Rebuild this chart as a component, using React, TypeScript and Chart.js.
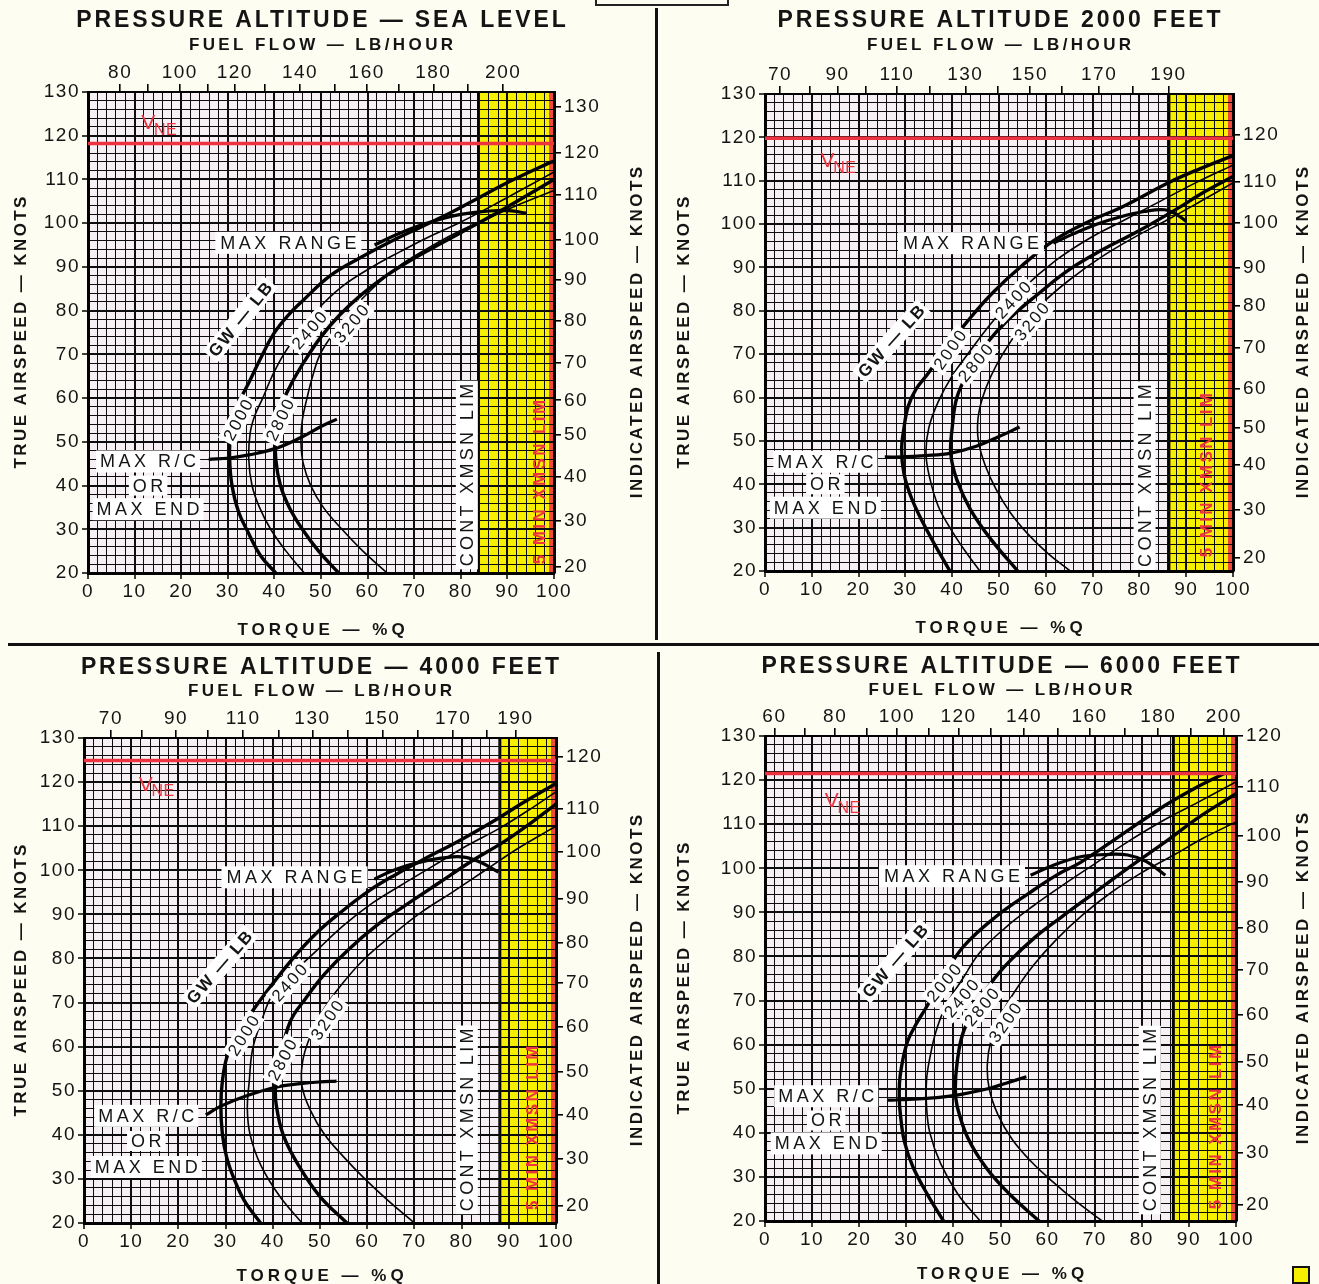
import React, { useEffect, useRef } from 'react';
import { Chart, registerables } from 'chart.js';

Chart.register(...registerables);

const FONT = "'Liberation Sans', Arial, Helvetica, sans-serif";

// ======================= DATA =======================
const titleSL = 'PRESSURE ALTITUDE — SEA LEVEL';
const title2000 = 'PRESSURE ALTITUDE 2000 FEET';
const title4000 = 'PRESSURE ALTITUDE — 4000 FEET';
const title6000 = 'PRESSURE ALTITUDE — 6000 FEET';
const gwWeights = ['2000', '2400', '2800', '3200'];

// Fuel flow (top axis) tick values and the torque (%Q) they sit at
const slFuelFlow = [80, 90, 100, 110, 120, 130, 140, 150, 160, 170, 180, 190, 200];
const slFuelFlowAtTorque = [6.9, 12.9, 19.7, 25.8, 31.5, 38.0, 45.5, 53.0, 59.8, 66.6, 74.1, 81.6, 89.1];
const ft2FuelFlow = [70, 80, 90, 100, 110, 120, 130, 140, 150, 160, 170, 180, 190];
const ft2FuelFlowAtTorque = [3.2, 9.6, 15.5, 21.6, 28.2, 35.3, 42.8, 49.7, 56.6, 63.5, 71.4, 78.5, 86.2];
const ft4FuelFlow = [70, 80, 90, 100, 110, 120, 130, 140, 150, 160, 170, 180, 190];
const ft4FuelFlowAtTorque = [5.7, 12.2, 19.5, 26.3, 33.7, 41.2, 48.4, 55.9, 63.2, 70.7, 78.2, 85.3, 91.4];
const ft6FuelFlow = [60, 70, 80, 90, 100, 110, 120, 130, 140, 150, 160, 170, 180, 190, 200];
const ft6FuelFlowAtTorque = [2.0, 8.5, 14.9, 21.6, 28.0, 34.8, 41.1, 48.0, 55.0, 62.2, 68.9, 76.4, 83.5, 90.3, 97.4];

// Indicated airspeed (right axis) tick values and the true airspeed they sit at
const slIAS = [130, 120, 110, 100, 90, 80, 70, 60, 50, 40, 30, 20];
const slIASAtTAS = [126.6, 116.0, 106.5, 96.3, 87.0, 77.6, 68.1, 59.5, 51.6, 42.0, 31.9, 21.5];
const ft2IAS = [120, 110, 100, 90, 80, 70, 60, 50, 40, 30, 20];
const ft2IASAtTAS = [120.6, 109.8, 100.4, 89.9, 81.2, 71.5, 62.0, 53.0, 44.4, 34.2, 23.0];
const ft4IAS = [120, 110, 100, 90, 80, 70, 60, 50, 40, 30, 20];
const ft4IASAtTAS = [125.7, 114.0, 104.1, 93.6, 83.6, 74.4, 64.5, 54.4, 44.6, 34.6, 23.9];
const ft6IAS = [120, 110, 100, 90, 80, 70, 60, 50, 40, 30, 20];
const ft6IASAtTAS = [130.0, 118.4, 107.3, 96.9, 86.5, 76.9, 66.7, 56.1, 46.3, 35.4, 23.6];

// VNE (true airspeed) and continuous transmission limit (torque)
const slVNE = 118.2, ft2VNE = 119.8, ft4VNE = 124.9, ft6VNE = 121.5;
const slXmsn = 83.8, ft2Xmsn = 86.3, ft4Xmsn = 88.1, ft6Xmsn = 86.7;

// Gross-weight curves: [torque %Q, true airspeed kt]
const slGW2000 = [[40.3, 20], [37, 24], [34.5, 29], [32.3, 34], [30.9, 40], [30.4, 46], [30.6, 52], [32, 58], [34.5, 63.5], [37, 69], [39.9, 74.8], [43, 79], [46.2, 82.4], [52, 88], [58.8, 92.3], [65, 95.8], [71.4, 99.1], [78, 102.5], [84, 105.9], [91, 109.8], [98.4, 113.5], [100, 114.2]];
const slGW2400 = [[46.4, 20], [42.5, 25], [39.2, 30], [36.8, 35], [35.2, 40], [34.5, 46], [34.8, 52], [35.8, 56], [37.5, 60], [39.5, 65], [42, 70], [45.3, 75], [49, 80], [54.5, 85.5], [61, 90], [67, 93.5], [73, 96.8], [79.5, 100], [88.5, 105], [95, 108.8], [100, 111.7]];
const slGW2800 = [[53.8, 20], [49.5, 25], [46, 30], [43.2, 35], [41.3, 40], [40.3, 46], [40.3, 52], [41, 57], [43.5, 63], [46.5, 68.5], [50, 74], [54, 79], [58.5, 83.5], [64, 88], [70, 92], [76, 95.5], [82, 99], [88, 102.5], [94, 106.2], [100, 110]];
const slGW3200 = [[64.2, 20], [59, 25], [54.5, 30], [50.5, 35], [47.8, 40], [46.2, 45], [45.7, 50], [46, 55], [47, 60], [48.2, 65], [49.8, 70], [52.8, 75], [56.5, 80], [61, 85], [66.5, 90], [72.5, 94], [79, 97.8], [86, 101.2], [93, 104.5], [100, 107.5]];
const slMaxRC = [[25.9, 46], [30.4, 46.3], [34.5, 47], [40.3, 48.5], [45.7, 51], [50, 53.5], [53.4, 55.2]];
const slMaxRange = [[61.5, 95], [66, 97.3], [71, 99.4], [76, 101], [80, 102], [84, 102.6], [88, 102.9], [91, 102.8], [94, 102.3]];

const ft2GW2000 = [[39.5, 20], [35, 28.6], [31.5, 36.3], [29.7, 42.4], [29.2, 48], [29.7, 53], [30.6, 58], [32.3, 62], [34.6, 65.2], [38.5, 71], [43.2, 77.5], [48.5, 84], [55, 90.5], [62, 96.4], [69, 100.5], [76.4, 104], [86.3, 109.6], [93, 112.8], [100, 115.8]];
const ft2GW2400 = [[45.9, 20], [42.5, 25], [39.5, 30], [37, 35], [35.3, 41], [34.4, 47], [35, 53], [37, 59], [40, 65], [44, 71], [49, 78], [55, 85], [62, 91.5], [69, 96.5], [76, 100.5], [84, 105], [92, 109.5], [100, 113.6]];
const ft2GW2800 = [[54, 20], [48.5, 27], [44, 34], [41, 41], [39.7, 47], [40, 53], [41, 60], [43.5, 66], [47, 72], [52, 78], [58.5, 84], [65, 89.5], [72, 94], [80, 98.5], [88, 103.5], [94, 107.5], [100, 111]];
const ft2GW3200 = [[65.2, 20], [60.5, 24], [56.2, 28.5], [52.4, 33.5], [49.3, 39], [47, 44.5], [45.6, 50], [45.5, 55], [46.5, 60], [48.3, 65], [50.8, 70], [54.5, 76], [59.5, 82], [65.5, 87.5], [72, 92.5], [79, 97], [86, 101], [93, 105.2], [100, 109.5]];
const ft2MaxRC = [[25.6, 46.3], [29.2, 46.3], [34.2, 46.6], [39.7, 47.2], [45, 48.7], [50, 51], [54.4, 53.2]];
const ft2MaxRange = [[61.6, 95.6], [66, 97.8], [71, 100], [76, 101.7], [81, 102.9], [85.4, 103.3], [88, 102.2], [90, 100.6]];

const ft4GW2000 = [[37.4, 20], [34, 25], [31.8, 30], [30.2, 35], [29.3, 40.4], [29, 46.4], [29.3, 52], [30.3, 57.7], [32.5, 63], [35, 67], [38, 71.5], [43.7, 79.3], [49, 85.5], [55, 91], [60.6, 95.5], [66, 99], [72, 102.5], [80, 107], [87, 111.3], [93, 115.3], [100, 119.7]];
const ft4GW2400 = [[46.2, 20], [41.5, 26], [37.5, 33], [35.2, 40], [34.6, 46], [35, 52], [35.7, 59.3], [37.5, 65.5], [40.1, 72.1], [44.5, 77], [49, 81.5], [55, 87.5], [61, 92.5], [67, 96.5], [74, 101], [81, 105.5], [88, 109.5], [94, 113.5], [100, 117.8]];
const ft4GW2800 = [[55.7, 20], [50, 26], [45.5, 33], [42.2, 40], [40.7, 47], [40.6, 51], [41.5, 57], [43.7, 65.7], [47, 71], [51, 76.5], [56, 82], [62, 87.5], [68, 92], [75, 97], [82, 102], [89, 106.5], [95, 111], [100, 115]];
const ft4GW3200 = [[70, 20], [64.5, 25], [59.5, 30], [55, 35], [51, 40], [48, 45.5], [46.2, 51], [46.3, 56.5], [47.8, 62], [50.5, 68], [54.5, 74], [59.5, 80], [65.5, 85.5], [71.5, 90.5], [78, 95], [85, 100], [92, 105], [100, 110]];
const ft4MaxRC = [[25.8, 44.5], [29, 46.5], [34.6, 48.9], [40.6, 50.8], [45.9, 51.6], [50, 52], [53.5, 52.2]];
const ft4MaxRange = [[61.5, 98], [66, 100.2], [71, 101.8], [76, 102.8], [80.5, 103], [84, 101.8], [87.8, 99.6]];

const ft6GW2000 = [[37.9, 20], [34.5, 26], [31.4, 32.3], [29.6, 38], [28.8, 43.6], [28.5, 48], [28.7, 53], [30.1, 60.2], [32, 64.5], [34.1, 68.2], [38, 75.5], [42.1, 82.2], [49, 89], [56.4, 94.6], [62, 98.5], [67.1, 101.4], [76, 107.8], [85, 114.3], [91, 118], [97.5, 121.5]];
const ft6GW2400 = [[45.7, 20], [41, 26], [37.3, 33], [35, 40], [34.3, 46], [34.3, 52], [35, 57], [36.3, 63], [38.5, 69], [42, 75], [45.7, 81], [51, 86.5], [57, 91.5], [63, 96], [70, 101], [77, 106], [84, 110.5], [92, 115], [100, 119.6]];
const ft6GW2800 = [[58.2, 20], [52, 26], [47, 32], [43, 39], [40.8, 46], [40.4, 50], [40.8, 56], [42, 62.5], [44.5, 68], [48, 74], [52, 79], [57.5, 84.5], [63, 89], [70, 94.5], [77, 100], [85, 106], [92, 111.5], [100, 116.9]];
const ft6GW3200 = [[71.6, 20], [66, 24.5], [61, 29], [56.5, 33.5], [52.5, 38.5], [49.5, 44], [47.6, 50], [47.2, 55.5], [48, 61], [50, 66.5], [53, 72], [57, 78], [62, 84], [67.5, 89.5], [73.5, 94.5], [80, 99], [86.8, 103], [93, 106.8], [100, 110.5]];
const ft6MaxRC = [[26.1, 47.4], [28.6, 47.5], [34.3, 47.8], [40.4, 48.5], [47.3, 50], [51, 51.2], [55.5, 52.7]];
const ft6MaxRange = [[56.4, 98.4], [61, 100.6], [67, 102.6], [72, 103.1], [77, 103], [81, 101.5], [85, 98.4]];

// ======================= PANEL TABLE =======================
const panels = [
  { title: titleSL, fuel: slFuelFlow, fuelAt: slFuelFlowAtTorque, ias: slIAS, iasAt: slIASAtTAS, vne: slVNE, xmsn: slXmsn,
    curves: [slGW2000, slGW2400, slGW2800, slGW3200], maxRC: slMaxRC, maxRange: slMaxRange },
  { title: title2000, fuel: ft2FuelFlow, fuelAt: ft2FuelFlowAtTorque, ias: ft2IAS, iasAt: ft2IASAtTAS, vne: ft2VNE, xmsn: ft2Xmsn,
    curves: [ft2GW2000, ft2GW2400, ft2GW2800, ft2GW3200], maxRC: ft2MaxRC, maxRange: ft2MaxRange },
  { title: title4000, fuel: ft4FuelFlow, fuelAt: ft4FuelFlowAtTorque, ias: ft4IAS, iasAt: ft4IASAtTAS, vne: ft4VNE, xmsn: ft4Xmsn,
    curves: [ft4GW2000, ft4GW2400, ft4GW2800, ft4GW3200], maxRC: ft4MaxRC, maxRange: ft4MaxRange },
  { title: title6000, fuel: ft6FuelFlow, fuelAt: ft6FuelFlowAtTorque, ias: ft6IAS, iasAt: ft6IASAtTAS, vne: ft6VNE, xmsn: ft6Xmsn,
    curves: [ft6GW2000, ft6GW2400, ft6GW2800, ft6GW3200], maxRC: ft6MaxRC, maxRange: ft6MaxRange },
];

// ======================= LAYOUT (positions / styles) =======================
const boxes = [
  { left: 0, top: 0, w: 655, h: 642, l: 88, r: 554, t: 92, b: 573, titleY: 20, ffY: 44, botY: 629, leftX: 20, rightX: 636 },
  { left: 660, top: 0, w: 659, h: 642, l: 105, r: 573, t: 94, b: 571, titleY: 20, ffY: 44, botY: 627, leftX: 23, rightX: 642 },
  { left: 0, top: 648, w: 655, h: 636, l: 84, r: 556, t: 90, b: 575, titleY: 19, ffY: 42, botY: 627, leftX: 20, rightX: 636 },
  { left: 660, top: 648, w: 659, h: 636, l: 105, r: 576, t: 88, b: 573, titleY: 18, ffY: 41, botY: 625, leftX: 23, rightX: 642 },
];

// label anchors in data units [torque, tas, angle]
const annotations = [
  { gwLb: [32.7, 78, -51], gw: [[32.2, 55, -62], [47.5, 75.5, -49], [41.2, 55, -64], [56.5, 77, -50]], range: [43, 95.5],
    rc: [12.9, 45.5, 40, 34.6], cont: [81.3, 42.4], five: [96.9, 40.8], vneAt: [15.1, 122.4] },
  { gwLb: [27, 73, -48], gw: [[39.5, 71, -55], [53, 82.5, -47], [45, 68, -50], [57, 77.5, -50]], range: [44, 95.6],
    rc: [12.9, 45.2, 40, 34.6], cont: [81.1, 42], five: [94.4, 42.1], vneAt: [15.5, 114] },
  { gwLb: [28.7, 78, -49], gw: [[33.8, 62.5, -58], [43.5, 74.5, -48], [42, 57, -62], [51.5, 66, -55]], range: [44.6, 98.4],
    rc: [13.2, 44.3, 38.6, 32.7], cont: [81.1, 43.4], five: [94.9, 41.6], vneAt: [15.2, 118.9] },
  { gwLb: [27.6, 79, -49], gw: [[38, 74, -50], [41.7, 70.5, -50], [46, 68.5, -50], [51, 65, -55]], range: [39.7, 98.2],
    rc: [13, 48.3, 42.8, 37.6], cont: [81.7, 42.9], five: [95.7, 41.3], vneAt: [16.3, 114.7] },
];

const INK = '#141414';
const RED = '#ee3340';

type TextOpts = { size: number; bold?: boolean; spacing?: number; angle?: number; color?: string; bg?: string; padX?: number; padY?: number };

function drawText(ctx: CanvasRenderingContext2D, text: string, x: number, y: number, o: TextOpts) {
  ctx.save();
  ctx.translate(x, y);
  if (o.angle) ctx.rotate((o.angle * Math.PI) / 180);
  ctx.font = `${o.bold ? 'bold ' : ''}${o.size}px ${FONT}`;
  (ctx as any).letterSpacing = '0px';
  const sp = o.spacing || 0;
  const w = ctx.measureText(text).width + sp * (text.length - 1);
  if (o.bg) {
    const px = o.padX ?? 4;
    const py = o.padY ?? 2;
    ctx.fillStyle = o.bg;
    ctx.fillRect(-w / 2 - px, -o.size / 2 - py, w + 2 * px, o.size + 2 * py);
  }
  (ctx as any).letterSpacing = sp + 'px';
  ctx.fillStyle = o.color || INK;
  ctx.textBaseline = 'middle';
  ctx.textAlign = 'left';
  ctx.fillText(text, -w / 2, 1);
  ctx.restore();
}

function makeOverlay(p: any, ann: any, box: any) {
  return {
    id: 'chartOverlay',
    beforeDraw(chart: any) {
      const { ctx, chartArea: a } = chart;
      const xs = chart.scales.x;
      ctx.save();
      ctx.fillStyle = '#f6eff3';
      ctx.fillRect(a.left, a.top, a.right - a.left, a.bottom - a.top);
      const bx = xs.getPixelForValue(p.xmsn);
      ctx.fillStyle = '#f6ef00';
      ctx.fillRect(bx, a.top, a.right - bx, a.bottom - a.top);
      ctx.fillStyle = '#f0483c';
      ctx.fillRect(a.right - 5, a.top, 5, a.bottom - a.top);
      ctx.strokeStyle = '#000';
      ctx.lineWidth = 3;
      ctx.beginPath();
      ctx.moveTo(bx, a.top);
      ctx.lineTo(bx, a.bottom);
      ctx.stroke();
      ctx.restore();
      (ctx as any).letterSpacing = '1.5px';
    },
    afterDatasetsDraw(chart: any) {
      const { ctx, chartArea: a } = chart;
      (ctx as any).letterSpacing = '0px';
      const X = (v: number) => chart.scales.x.getPixelForValue(v);
      const Y = (v: number) => chart.scales.y.getPixelForValue(v);
      // gross weight labels
      drawText(ctx, 'GW — LB', X(ann.gwLb[0]), Y(ann.gwLb[1]), { size: 17, bold: true, spacing: 2, angle: ann.gwLb[2], bg: '#ffffff', padX: 3, padY: 1 });
      ann.gw.forEach((g: number[], i: number) => {
        drawText(ctx, gwWeights[i], X(g[0]), Y(g[1]), { size: 17, spacing: 2, angle: g[2], bg: '#ffffff', padX: 3, padY: 1 });
      });
      drawText(ctx, 'MAX RANGE', X(ann.range[0]), Y(ann.range[1]), { size: 18, spacing: 3.5, bg: '#ffffff', padX: 5, padY: 2 });
      drawText(ctx, 'MAX R/C', X(ann.rc[0]), Y(ann.rc[1]), { size: 18, spacing: 3.5, bg: '#ffffff', padX: 4, padY: 2 });
      drawText(ctx, 'OR', X(ann.rc[0]), Y(ann.rc[2]), { size: 18, spacing: 3.5, bg: '#ffffff', padX: 4, padY: 1 });
      drawText(ctx, 'MAX END', X(ann.rc[0]), Y(ann.rc[3]), { size: 18, spacing: 3.5, bg: '#ffffff', padX: 4, padY: 2 });
      drawText(ctx, 'CONT XMSN LIM', X(ann.cont[0]), Y(ann.cont[1]), { size: 18, spacing: 3.3, angle: -90, bg: '#ffffff', padX: 3, padY: 2 });
      drawText(ctx, '5 MIN XMSN LIM', X(ann.five[0]), Y(ann.five[1]), { size: 17, bold: true, spacing: 2.4, angle: -90, color: RED });
      // VNE label
      const vx = X(ann.vneAt[0]);
      const vy = Y(ann.vneAt[1]);
      drawText(ctx, 'V', vx - 10, vy - 3, { size: 21, color: RED });
      drawText(ctx, 'NE', vx + 7, vy + 4, { size: 16, spacing: 0.5, color: RED });
      // titles
      const cx = (a.left + a.right) / 2;
      const cy = (a.top + a.bottom) / 2;
      drawText(ctx, p.title, cx, box.titleY, { size: 23, bold: true, spacing: 2.9 });
      drawText(ctx, 'FUEL FLOW — LB/HOUR', cx, box.ffY, { size: 17, bold: true, spacing: 3.4 });
      drawText(ctx, 'TORQUE — %Q', cx, box.botY, { size: 17, bold: true, spacing: 4 });
      drawText(ctx, 'TRUE AIRSPEED — KNOTS', box.leftX, cy, { size: 17, bold: true, spacing: 2.4, angle: -90 });
      drawText(ctx, 'INDICATED AIRSPEED — KNOTS', box.rightX, cy, { size: 17, bold: true, spacing: 2.5, angle: -90 });
      (ctx as any).letterSpacing = '0px';
    },
  };
}

function buildConfig(idx: number): any {
  const p = panels[idx];
  const box = boxes[idx];
  const ann = annotations[idx];
  const toXY = (arr: number[][]) => arr.map(([x, y]) => ({ x, y }));
  const datasets: any[] = [];
  datasets.push({ label: 'VNE', data: [{ x: 0, y: p.vne }, { x: 100, y: p.vne }], borderColor: RED, borderWidth: 3.5, showLine: true, pointRadius: 0, tension: 0 });
  p.curves.forEach((c: number[][], i: number) => {
    datasets.push({ label: 'GW ' + gwWeights[i], data: toXY(c), borderColor: '#000', borderWidth: i % 2 === 0 ? 3.4 : 1.6, showLine: true, pointRadius: 0, tension: 0.4 });
  });
  datasets.push({ label: 'MAX R/C', data: toXY(p.maxRC), borderColor: '#000', borderWidth: 3.2, showLine: true, pointRadius: 0, tension: 0.4 });
  datasets.push({ label: 'MAX RANGE', data: toXY(p.maxRange), borderColor: '#000', borderWidth: 3.2, showLine: true, pointRadius: 0, tension: 0.4 });

  const tickFont = { family: FONT, size: 19, lineHeight: 1 };
  const major = (c: any) => c.tick && Math.round(c.tick.value) % 10 === 0;

  return {
    type: 'scatter',
    data: { datasets },
    options: {
      responsive: false,
      animation: false,
      events: [],
      layout: { padding: 0 },
      plugins: { legend: { display: false }, tooltip: { enabled: false }, title: { display: false } },
      scales: {
        x: {
          type: 'linear', position: 'bottom', min: 0, max: 100,
          afterFit: (s: any) => { s.height = box.h - box.b; },
          ticks: { stepSize: 2, autoSkip: false, maxRotation: 0, color: INK, font: tickFont, padding: 3.5,
            callback: (v: any) => (Math.round(v) % 10 === 0 ? String(v) : '') },
          grid: { color: '#0d0d0d', lineWidth: (c: any) => (major(c) ? 2 : 1), tickLength: 6,
            tickColor: (c: any) => (major(c) ? '#000' : 'rgba(0,0,0,0)'), tickWidth: 1.5 },
          border: { display: true, color: '#000', width: 3 },
        },
        x2: {
          type: 'linear', position: 'top', min: 0, max: 100,
          afterFit: (s: any) => { s.height = box.t; },
          afterBuildTicks: (s: any) => { s.ticks = p.fuelAt.map((v: number) => ({ value: v })); },
          ticks: { autoSkip: false, maxRotation: 0, color: INK, font: tickFont, padding: 1.5,
            callback: (_v: any, i: number) => (i % 2 === 0 ? String(p.fuel[i]) : '') },
          grid: { drawOnChartArea: false, drawTicks: true, tickLength: 8, color: '#000', tickColor: '#000', tickWidth: 1.6, lineWidth: 1.6 },
          border: { display: true, color: '#000', width: 2 },
        },
        y: {
          type: 'linear', position: 'left', min: 20, max: 130,
          afterFit: (s: any) => { s.width = box.l; },
          ticks: { stepSize: 2, autoSkip: false, color: INK, font: tickFont, padding: 2,
            callback: (v: any) => (Math.round(v) % 10 === 0 ? String(v) : '') },
          grid: { color: '#0d0d0d', lineWidth: (c: any) => (major(c) ? 2 : 1), tickLength: 6,
            tickColor: (c: any) => (major(c) ? '#000' : 'rgba(0,0,0,0)'), tickWidth: 1.5 },
          border: { display: true, color: '#000', width: 3 },
        },
        y2: {
          type: 'linear', position: 'right', min: 20, max: 130,
          afterFit: (s: any) => { s.width = box.w - box.r; },
          afterBuildTicks: (s: any) => { s.ticks = p.iasAt.map((v: number) => ({ value: v })); },
          ticks: { autoSkip: false, color: INK, font: tickFont, padding: 3,
            callback: (_v: any, i: number) => String(p.ias[i]) },
          grid: { drawOnChartArea: false, drawTicks: true, tickLength: 7, color: '#000', tickColor: '#000', tickWidth: 1.6, lineWidth: 1.6 },
          border: { display: true, color: '#000', width: 3 },
        },
      },
    },
    plugins: [makeOverlay(p, ann, box)],
  };
}

function Panel({ idx }: { idx: number }) {
  const ref = useRef<HTMLCanvasElement>(null);
  const box = boxes[idx];
  useEffect(() => {
    if (!ref.current) return;
    const chart = new Chart(ref.current, buildConfig(idx));
    return () => chart.destroy();
  }, [idx]);
  return (
    <div style={{ position: 'absolute', left: box.left, top: box.top, width: box.w, height: box.h }}>
      <canvas ref={ref} width={box.w} height={box.h} style={{ display: 'block', width: box.w, height: box.h }} />
    </div>
  );
}

export default function App() {
  return (
    <div style={{ position: 'absolute', left: 0, top: 0, width: 1319, height: 1284, background: '#fdfdf1', overflow: 'hidden' }}>
      <div style={{ position: 'absolute', left: 595, top: -12, width: 130, height: 14, border: '2px solid #222' }} />
      <div style={{ position: 'absolute', left: 655, top: 8, width: 3, height: 632, background: '#111' }} />
      <div style={{ position: 'absolute', left: 8, top: 643, width: 1311, height: 3, background: '#111' }} />
      <div style={{ position: 'absolute', left: 657, top: 652, width: 3, height: 632, background: '#111' }} />
      <div style={{ position: 'absolute', left: 1292, top: 1266, width: 14, height: 14, background: '#f6ef00', border: '2px solid #111' }} />
      {[0, 1, 2, 3].map((i) => (
        <Panel key={i} idx={i} />
      ))}
    </div>
  );
}
